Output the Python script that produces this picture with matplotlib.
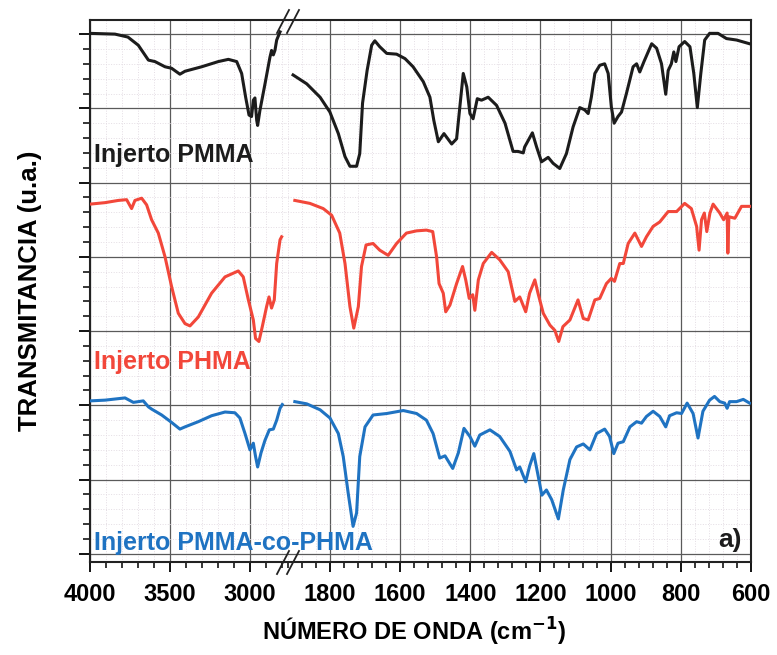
"""FTIR spectra of the grafted films (broken wavenumber axis)."""

import matplotlib
matplotlib.use("Agg")
import matplotlib.pyplot as plt
from matplotlib.lines import Line2D
from matplotlib.ticker import MultipleLocator

plt.rcParams['font.family'] = ['Liberation Sans', 'DejaVu Sans']
plt.rcParams['font.weight'] = 'bold'

# Injerto PMMA (black)
pmma_wn_left = [4000, 3844, 3763, 3698, 3635, 3594, 3531, 3490, 3438, 3406, 3302, 3198, 3135,
                3083, 3052, 3027, 3006, 2990, 2979, 2969, 2958, 2952, 2938, 2906, 2875, 2865,
                2854, 2844, 2833, 2812]
pmma_t_left = [7.01, 7.00, 6.96, 6.85, 6.65, 6.63, 6.56, 6.54, 6.46, 6.50, 6.56, 6.63, 6.66,
               6.63, 6.47, 6.15, 5.91, 5.89, 6.11, 6.14, 5.84, 5.77, 5.97, 6.33, 6.69, 6.78,
               6.72, 6.78, 6.92, 7.03]
pmma_wn_right = [1905, 1866, 1828, 1800, 1776, 1757, 1743, 1724, 1715, 1707, 1694, 1681, 1672,
                 1658, 1638, 1610, 1586, 1563, 1534, 1515, 1504, 1491, 1475, 1453, 1439, 1428,
                 1420, 1410, 1401, 1392, 1380, 1368, 1349, 1325, 1301, 1278, 1264, 1249, 1245,
                 1223, 1211, 1197, 1178, 1164, 1145, 1126, 1107, 1088, 1074, 1064, 1055, 1045,
                 1031, 1017, 1007, 998, 990, 979, 969, 955, 936, 926, 917, 905, 883, 869, 855,
                 843, 836, 827, 820, 814, 805, 789, 774, 763, 753, 743, 732, 718, 694, 670, 641,
                 604]
pmma_t_right = [6.45, 6.33, 6.15, 5.95, 5.66, 5.35, 5.22, 5.22, 5.39, 6.07, 6.51, 6.85, 6.91,
                6.83, 6.74, 6.73, 6.67, 6.56, 6.36, 6.15, 5.84, 5.55, 5.66, 5.52, 5.59, 6.10,
                6.47, 6.29, 5.93, 5.86, 6.13, 6.11, 6.15, 6.04, 5.80, 5.42, 5.42, 5.40, 5.48,
                5.67, 5.48, 5.28, 5.34, 5.26, 5.19, 5.39, 5.75, 6.01, 5.98, 5.93, 6.15, 6.47,
                6.58, 6.60, 6.47, 6.02, 5.80, 5.89, 5.95, 6.20, 6.56, 6.60, 6.49, 6.63, 6.87,
                6.81, 6.60, 6.19, 6.51, 6.60, 6.76, 6.63, 6.83, 6.90, 6.83, 6.47, 6.01, 6.47,
                6.92, 7.01, 7.01, 6.94, 6.92, 6.87]

# Injerto PHMA (red)
phma_wn_left = [4000, 3906, 3823, 3771, 3740, 3719, 3677, 3646, 3615, 3573, 3531, 3490, 3448,
                3406, 3375, 3323, 3240, 3156, 3073, 3042, 3010, 2979, 2965, 2944, 2923, 2896,
                2881, 2865, 2848, 2833, 2812, 2802]
phma_t_left = [4.71, 4.73, 4.76, 4.77, 4.65, 4.76, 4.79, 4.70, 4.50, 4.32, 4.00, 3.60, 3.24,
               3.10, 3.07, 3.19, 3.51, 3.73, 3.81, 3.73, 3.42, 3.15, 2.90, 2.86, 3.06, 3.33,
               3.46, 3.31, 3.42, 3.91, 4.23, 4.27]
phma_wn_right = [1900, 1857, 1819, 1795, 1772, 1757, 1743, 1732, 1719, 1710, 1697, 1677, 1658,
                 1634, 1610, 1582, 1553, 1525, 1507, 1496, 1489, 1477, 1470, 1458, 1439, 1422,
                 1413, 1403, 1393, 1387, 1377, 1363, 1339, 1316, 1292, 1273, 1259, 1242, 1231,
                 1216, 1207, 1192, 1173, 1159, 1148, 1136, 1116, 1093, 1078, 1064, 1045, 1031,
                 1012, 998, 989, 974, 964, 950, 931, 912, 898, 879, 860, 836, 812, 789, 770,
                 755, 748, 741, 733, 726, 717, 708, 689, 678, 668, 666, 663, 646, 627, 613, 600]
phma_t_right = [4.76, 4.72, 4.65, 4.56, 4.32, 3.91, 3.33, 3.04, 3.33, 3.87, 4.16, 4.18, 4.09,
                4.02, 4.18, 4.32, 4.35, 4.36, 4.34, 4.00, 3.64, 3.51, 3.26, 3.35, 3.64, 3.87,
                3.69, 3.44, 3.49, 3.28, 3.69, 3.91, 4.06, 3.96, 3.80, 3.40, 3.46, 3.26, 3.51,
                3.69, 3.51, 3.24, 3.08, 3.01, 2.86, 3.06, 3.15, 3.42, 3.17, 3.15, 3.42, 3.44,
                3.64, 3.71, 3.67, 3.91, 3.91, 4.18, 4.32, 4.14, 4.27, 4.41, 4.47, 4.61, 4.61,
                4.72, 4.65, 4.41, 4.09, 4.50, 4.59, 4.34, 4.59, 4.71, 4.59, 4.50, 4.59, 4.05,
                4.54, 4.52, 4.68, 4.68, 4.68]

# Injerto PMMA-co-PHMA (blue)
copo_wn_left = [4000, 3906, 3781, 3729, 3667, 3635, 3615, 3552, 3490, 3438, 3406, 3323, 3240,
                3156, 3094, 3063, 3031, 3000, 2979, 2965, 2952, 2931, 2906, 2879, 2854, 2833,
                2812, 2798]
copo_t_left = [2.06, 2.07, 2.10, 2.04, 2.06, 1.98, 1.95, 1.87, 1.77, 1.68, 1.71, 1.78, 1.86,
               1.91, 1.90, 1.83, 1.62, 1.40, 1.49, 1.31, 1.17, 1.36, 1.53, 1.67, 1.68, 1.80,
               1.96, 2.01]
copo_wn_right = [1900, 1866, 1828, 1800, 1776, 1762, 1748, 1734, 1724, 1715, 1700, 1677, 1638,
                 1591, 1553, 1525, 1506, 1487, 1472, 1450, 1434, 1418, 1401, 1387, 1373, 1344,
                 1316, 1287, 1268, 1259, 1242, 1231, 1219, 1207, 1196, 1183, 1168, 1149, 1135,
                 1116, 1097, 1078, 1059, 1040, 1017, 1003, 991, 979, 964, 945, 926, 912, 898,
                 879, 860, 843, 832, 812, 798, 782, 765, 751, 737, 718, 704, 689, 675, 668,
                 661, 641, 622, 604]
copo_t_right = [2.05, 2.02, 1.94, 1.83, 1.62, 1.31, 0.82, 0.37, 0.55, 1.31, 1.71, 1.87, 1.89,
                1.93, 1.89, 1.80, 1.62, 1.29, 1.32, 1.15, 1.36, 1.69, 1.58, 1.45, 1.60, 1.67,
                1.58, 1.38, 1.13, 1.17, 0.97, 1.18, 1.35, 1.06, 0.79, 0.86, 0.73, 0.47, 0.86,
                1.27, 1.44, 1.48, 1.40, 1.62, 1.68, 1.58, 1.35, 1.49, 1.51, 1.71, 1.78, 1.76,
                1.85, 1.92, 1.85, 1.71, 1.86, 1.90, 1.89, 2.03, 1.89, 1.56, 1.92, 2.07, 2.12,
                2.05, 2.03, 1.96, 2.05, 2.05, 2.08, 2.03]

W, H = 777, 655
fig = plt.figure(figsize=(W / 100, H / 100), dpi=100)
ax1 = fig.add_axes([90 / W, 93 / H, 195 / W, 542 / H])
ax2 = fig.add_axes([285 / W, 93 / H, 466 / W, 542 / H], sharey=ax1)

series = [
    (pmma_wn_left, pmma_t_left, pmma_wn_right, pmma_t_right, '#1c1c1c'),
    (phma_wn_left, phma_t_left, phma_wn_right, phma_t_right, '#f2473a'),
    (copo_wn_left, copo_t_left, copo_wn_right, copo_t_right, '#1f73c2'),
]
for wl, tl, wr, tr, c in series:
    ax1.plot(wl, tl, color=c, lw=2.2, solid_joinstyle='round', zorder=3)
    ax2.plot(wr, tr, color=c, lw=2.2, solid_joinstyle='round', zorder=3)

ax1.set_xlim(4000, 2781)
ax2.set_xlim(1928, 600)
ax1.set_ylim(-0.11, 7.19)

ax1.xaxis.set_major_locator(MultipleLocator(500))
ax1.xaxis.set_minor_locator(MultipleLocator(100))
ax2.xaxis.set_major_locator(MultipleLocator(200))
ax2.xaxis.set_minor_locator(MultipleLocator(40))
ax1.yaxis.set_major_locator(MultipleLocator(1))
ax1.yaxis.set_minor_locator(MultipleLocator(0.2))

for ax in (ax1, ax2):
    ax.set_facecolor('none')
    ax.set_axisbelow(True)
    ax.grid(which='major', color='#5a5a5a', lw=0.9)
    ax.grid(which='minor', color='#e4dde4', lw=0.7, ls=':')
    ax.tick_params(axis='x', which='major', direction='out', length=7, width=1.3,
                   pad=8, labelsize=17)
    ax.tick_params(axis='x', which='minor', direction='out', length=4, width=1.1)
    for sp in ax.spines.values():
        sp.set_linewidth(1.5)
        sp.set_color('#222222')

ax1.spines['right'].set_visible(False)
ax2.spines['left'].set_visible(False)
ax1.tick_params(axis='y', which='major', direction='out', length=8, width=1.3, labelleft=False)
ax1.tick_params(axis='y', which='minor', direction='out', length=5, width=1.1)
ax2.tick_params(axis='y', which='both', left=False, labelleft=False)

# the first tick of the right part sits under the break
ax1.set_xticks([4000, 3500, 3000])
ax2.set_xticks([1800, 1600, 1400, 1200, 1000, 800, 600])

# break marks
for x0 in (277, 287):
    for y0, y1 in ((33, 10), (574, 551)):
        fig.add_artist(Line2D([x0 / W, (x0 + 12) / W], [1 - y0 / H, 1 - y1 / H],
                              color='#222222', lw=1.3))

fig.text(94 / W, 1 - 155 / H, 'Injerto PMMA', color='#1c1c1c', fontsize=18,
         fontweight='bold', va='center', ha='left')
fig.text(94 / W, 1 - 362 / H, 'Injerto PHMA', color='#f2473a', fontsize=18,
         fontweight='bold', va='center', ha='left')
fig.text(94 / W, 1 - 543 / H, 'Injerto PMMA-co-PHMA', color='#1f73c2', fontsize=18,
         fontweight='bold', va='center', ha='left')
fig.text(742 / W, 1 - 540 / H, 'a)', color='#1c1c1c', fontsize=19,
         fontweight='bold', va='center', ha='right')

fig.text(30 / W, 1 - 291 / H, 'TRANSMITANCIA (u.a.)', rotation=90, fontsize=18.5,
         fontweight='bold', va='center', ha='center')
fig.text(414 / W, 1 - 632 / H, 'NÚMERO DE ONDA (cm$^{\\mathbf{-1}}$)', fontsize=17,
         fontweight='bold', va='center', ha='center')

fig.savefig('out.png', dpi=100)
